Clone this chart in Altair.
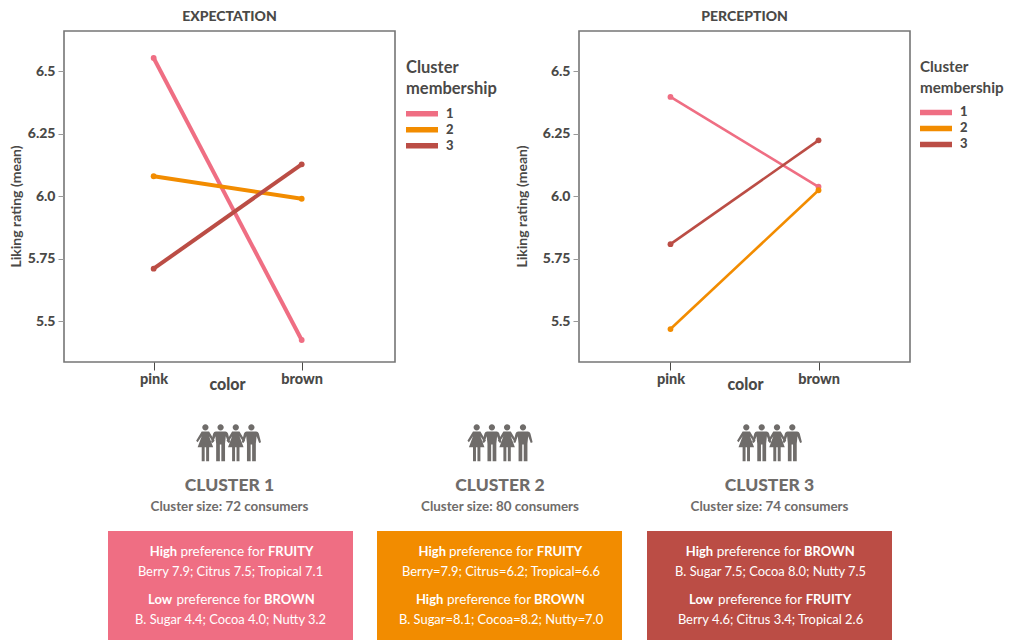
import altair as alt
import pandas as pd

# ---- chart values
COLORS = ["pink", "brown"]
CLUSTERS = ["1", "2", "3"]
EXPECTATION = {"1": [6.554, 5.424], "2": [6.08, 5.99], "3": [5.71, 6.128]}
PERCEPTION = {"1": [6.398, 6.038], "2": [5.468, 6.024], "3": [5.808, 6.224]}
PALETTE = ["#EF6E83", "#F28C00", "#BB4D45"]
Y_TICKS = [5.5, 5.75, 6.0, 6.25, 6.5]

CLUSTER_TITLES = ["CLUSTER 1", "CLUSTER 2", "CLUSTER 3"]
CLUSTER_SIZES = ["Cluster size: 72 consumers", "Cluster size: 80 consumers", "Cluster size: 74 consumers"]
HEAD_1 = [("High", "FRUITY"), ("High", "FRUITY"), ("High", "BROWN")]
LINE_1 = ["Berry 7.9; Citrus 7.5; Tropical 7.1", "Berry=7.9; Citrus=6.2; Tropical=6.6", "B. Sugar 7.5; Cocoa 8.0; Nutty 7.5"]
HEAD_2 = [("Low", "BROWN"), ("High", "BROWN"), ("Low", "FRUITY")]
LINE_2 = ["B. Sugar 4.4; Cocoa 4.0; Nutty 3.2", "B. Sugar=8.1; Cocoa=8.2; Nutty=7.0", "Berry 4.6; Citrus 3.4; Tropical 2.6"]

# ---- layout (page pixels) of the annotation panel
PANEL_X, PANEL_Y = 64, 410
BOX_LEFT = [108, 377, 647]
BOX_WIDTH = 245
TEXT_CENTER = [229.5, 500, 769.5]
PEOPLE_X = [[205.4, 220.6, 235.8, 251.4], [476.7, 491.9, 507.1, 523], [746.3, 761.7, 777, 792.3]]
H1_X = [(149.7, 180.4, 268), (418.6, 449, 536.8), (685.7, 716.7, 804)]
H2_X = [(148, 176.4, 263.9), (415.9, 447, 534), (689, 718, 805.7)]

INK = "#4A4947"
GREY = "#6F6C6A"
FONT = "Lato"

WOMAN = ("M-0.17,-0.83 A0.17,0.17 0 1 1 0.17,-0.83 A0.17,0.17 0 1 1 -0.17,-0.83 Z "
         "M-0.2,-0.6 L0.2,-0.6 L0.5,-0.1 L0.42,-0.03 L0.2,-0.35 L0.42,0.25 L0.2,0.25 L0.2,1 "
         "L0.04,1 L0.04,0.25 L-0.04,0.25 L-0.04,1 L-0.2,1 L-0.2,0.25 L-0.42,0.25 L-0.2,-0.35 "
         "L-0.42,-0.03 L-0.5,-0.1 Z")
MAN = ("M-0.17,-0.83 A0.17,0.17 0 1 1 0.17,-0.83 A0.17,0.17 0 1 1 -0.17,-0.83 Z "
       "M-0.26,-0.6 L0.26,-0.6 Q0.36,-0.6 0.4,-0.5 L0.52,-0.02 L0.42,0.02 L0.28,-0.35 L0.24,0.05 "
       "L0.24,1 L0.04,1 L0.04,0.1 L-0.04,0.1 L-0.04,1 L-0.24,1 L-0.24,0.05 L-0.28,-0.35 "
       "L-0.42,0.02 L-0.52,-0.02 L-0.4,-0.5 Q-0.36,-0.6 -0.26,-0.6 Z")


def line_panel(values, title, width_line, title_x, color_x, align, legend_x, legend_font):
    df = pd.DataFrame(
        [{"color": c, "cluster": k, "value": v}
         for k in CLUSTERS for c, v in zip(COLORS, values[k])]
    )
    x = alt.X("color:N", sort=COLORS,
              scale=alt.Scale(type="point", domain=COLORS, padding=0.618, align=align),
              axis=alt.Axis(title="color", labelAngle=0, labelFont=FONT, labelFontWeight=900,
                            labelFontSize=14.5, labelColor=INK, labelPadding=2, tickSize=8,
                            tickColor=INK, tickWidth=1, domain=False, grid=False,
                            titleFont=FONT, titleFontWeight=900, titleFontSize=16, titleColor=INK,
                            titleX=color_x, titleY=22, titleBaseline="middle", titleAnchor="middle"))
    y = alt.Y("value:Q",
              scale=alt.Scale(domain=[5.336, 6.662], nice=False, zero=False),
              axis=alt.Axis(title="Liking rating (mean)", values=Y_TICKS,
                            labelExpr="(datum.value*100)%50==0 ? format(datum.value,'.1f') : format(datum.value,'.2f')",
                            labelFont=FONT, labelFontWeight=900, labelFontSize=14, labelColor=INK,
                            labelPadding=3, tickSize=6, tickColor="#999999", tickWidth=1,
                            domain=False, grid=False,
                            titleFont=FONT, titleFontWeight=700, titleFontSize=14, titleColor=INK,
                            titleX=title_x, titleY=175, titleBaseline="middle"))
    scale = alt.Scale(domain=CLUSTERS, range=PALETTE)
    line = alt.Chart(df).mark_line(strokeWidth=width_line).encode(
        x=x, y=y,
        color=alt.Color("cluster:N", scale=scale,
                        legend=alt.Legend(
                            title=["Cluster", "membership"], orient="none", legendX=legend_x, legendY=28.5,
                            titleFont=FONT, titleFontWeight=700, titleFontSize=legend_font, titleColor=INK,
                            titleLineHeight=21, titlePadding=9,
                            labelFont=FONT, labelFontWeight=900, labelFontSize=13, labelColor=INK,
                            labelOffset=5, symbolOffset=-3, symbolType="stroke", symbolSize=1024,
                            symbolStrokeWidth=5.5, rowPadding=0, clipHeight=15.5)),
    )
    point = alt.Chart(df).mark_point(filled=True, size=34, opacity=1).encode(
        x=x, y=y, color=alt.Color("cluster:N", scale=scale, legend=None)
    )
    return (line + point).properties(
        width=331, height=331,
        title=alt.TitleParams(title, font=FONT, fontWeight=900, fontSize=14, color=INK,
                              anchor="middle", offset=7.5),
    )


def annotation_panel():
    boxes, people, heads, sizes, h_bold, h_reg, lines = [], [], [], [], [], [], []
    for i in range(3):
        boxes.append({"x": BOX_LEFT[i] - PANEL_X, "x2": BOX_LEFT[i] + BOX_WIDTH - PANEL_X,
                      "y": 531 - PANEL_Y, "y2": 640 - PANEL_Y, "fill": PALETTE[i]})
        for j, px in enumerate(PEOPLE_X[i]):
            people.append({"x": px - PANEL_X, "y": 442.7 - PANEL_Y, "kind": "w" if j % 2 == 0 else "m"})
        cx = TEXT_CENTER[i] - PANEL_X
        heads.append({"x": cx, "y": 485 - PANEL_Y, "t": CLUSTER_TITLES[i]})
        sizes.append({"x": cx, "y": 506 - PANEL_Y, "t": CLUSTER_SIZES[i]})
        lines.append({"x": cx + 1, "y": 571 - PANEL_Y, "t": LINE_1[i]})
        lines.append({"x": cx + 1, "y": 619 - PANEL_Y, "t": LINE_2[i]})
        for head, xs, yy in ((HEAD_1[i], H1_X[i], 551), (HEAD_2[i], H2_X[i], 599)):
            h_bold.append({"x": xs[0] - PANEL_X, "y": yy - PANEL_Y, "t": head[0]})
            h_reg.append({"x": xs[1] - PANEL_X, "y": yy - PANEL_Y, "t": "preference for"})
            h_bold.append({"x": xs[2] - PANEL_X, "y": yy - PANEL_Y, "t": head[1]})

    X = alt.X("x:Q", scale=None, axis=None)
    Y = alt.Y("y:Q", scale=None, axis=None)

    def text(rows, **kw):
        return alt.Chart(pd.DataFrame(rows)).mark_text(font=FONT, baseline="middle", dy=1, **kw).encode(x=X, y=Y, text="t:N")

    box = alt.Chart(pd.DataFrame(boxes)).mark_rect().encode(
        x=X, x2="x2:Q", y=Y, y2="y2:Q", color=alt.Color("fill:N", scale=None)
    )
    df_people = pd.DataFrame(people)
    women = alt.Chart(df_people[df_people.kind == "w"]).mark_point(
        shape=WOMAN, filled=True, opacity=1, size=1369, color=GREY, strokeWidth=0).encode(x=X, y=Y)
    men = alt.Chart(df_people[df_people.kind == "m"]).mark_point(
        shape=MAN, filled=True, opacity=1, size=1369, color=GREY, strokeWidth=0).encode(x=X, y=Y)
    return alt.layer(
        box, women, men,
        text(heads, align="center", fontSize=17.5, fontWeight=900, color=GREY),
        text(sizes, align="center", fontSize=13.4, fontWeight=700, color=GREY),
        text(h_bold, align="left", fontSize=13, fontWeight=700, color="white"),
        text(h_reg, align="left", fontSize=13.5, fontWeight=400, color="white"),
        text(lines, align="center", fontSize=12.9, fontWeight=400, color="white"),
    ).properties(width=BOX_LEFT[2] + BOX_WIDTH - PANEL_X, height=640 - PANEL_Y,
                 view=alt.ViewConfig(stroke=None))


top = alt.hconcat(
    line_panel(EXPECTATION, "EXPECTATION", 4, -48, 163, 0.49, 342, 16.5),
    line_panel(PERCEPTION, "PERCEPTION", 2.6, -57, 166, 0.5, 341, 15.2),
    spacing=184, bounds="flush",
).resolve_scale(color="independent").resolve_legend(color="independent")
chart = alt.vconcat(top, annotation_panel(), spacing=379, bounds="flush").properties(
    padding=0
).configure_view(stroke="#757575", strokeWidth=1.6)
chart = chart.configure_axis(labelOverlap=False)

chart.save("out.html", embed_options={"renderer": "svg", "actions": False})
